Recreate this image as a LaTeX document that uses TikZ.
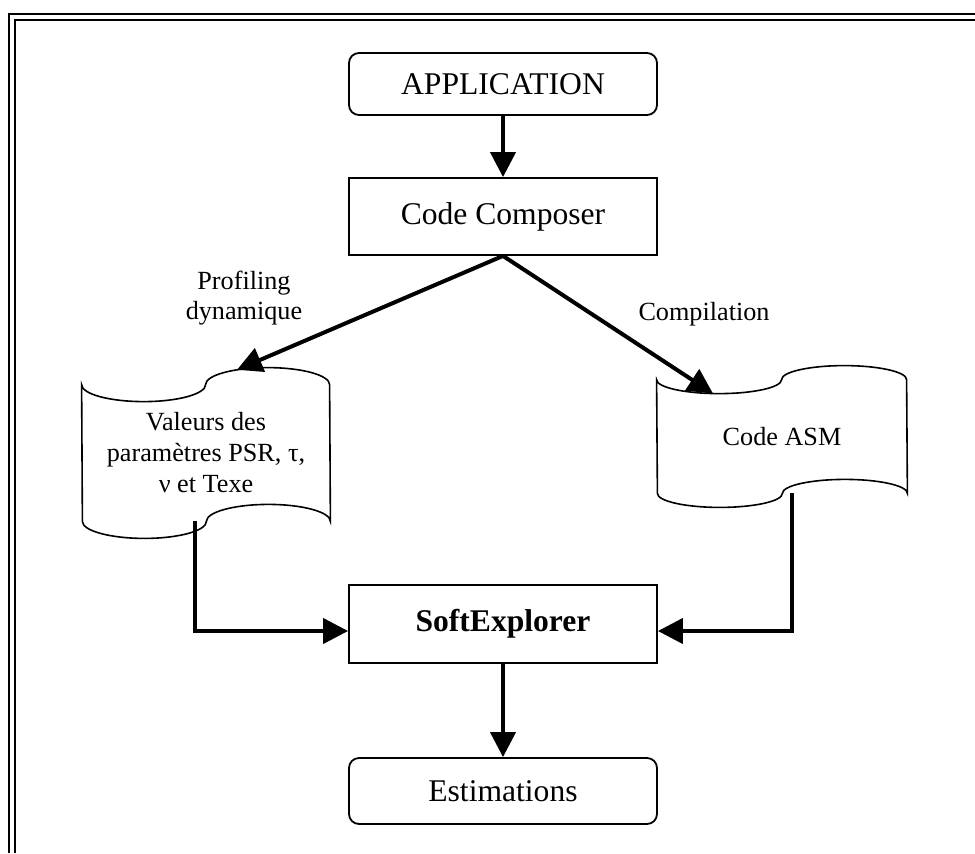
\documentclass[tikz,border=0pt]{standalone}
\usepackage{fontspec}
\setmainfont{Liberation Serif}
\usepackage{tikz}
\usetikzlibrary{arrows.meta,positioning}
\tikzset{
  fc/.style={x=0.5pt, y=-0.5pt, >={Triangle[length=12.5pt, width=12.5pt]},
             every node/.style={font=\fontsize{15.8}{19}\selectfont, inner sep=0pt}},
  blk/.style={draw, line width=0.9pt, minimum width=154pt, minimum height=39pt},
  rblk/.style={blk, rounded corners=5pt},
  ptape/.style={align=center, font=\fontsize{13.1}{15.5}\selectfont},
  tapeline/.style={line width=0.8pt},
  flow/.style={->, line width=2pt},
  lbl/.style={align=center, font=\fontsize{13.1}{15}\selectfont},
  frm/.style={line width=1.25pt}
}
% punched tape outline round a node: #1 node, #2 quarter width, #3 wave height
\newcommand{\tapeshape}[3]{%
  \draw[tapeline] (#1.north west)
    arc[start angle=180, end angle=360, x radius=#2, y radius=#3]
    arc[start angle=180, end angle=0, x radius=#2, y radius=#3]
    -- (#1.south east)
    arc[start angle=0, end angle=180, x radius=#2, y radius=#3]
    arc[start angle=0, end angle=-180, x radius=#2, y radius=#3] -- cycle;}

\begin{document}
\begin{tikzpicture}[fc]
\useasboundingbox (0,0) rectangle (975,853);
\draw[frm] (9,853) -- (9,14) -- (975,14);
\draw[frm] (15,853) -- (15,20) -- (975,20);

\node[rblk, minimum height=31pt] (app) at (503,84) {APPLICATION};
\node[blk, minimum height=38.5pt] (cc) at (503,216.5) {Code Composer};
\node[ptape, minimum width=124pt, minimum height=68pt] (vals) at (206,453)
  {Valeurs des\\paramètres PSR, τ,\\ν et Texe};
\node[ptape, minimum width=125pt, minimum height=56.5pt] (asm) at (782,436.5) {Code ASM};
\tapeshape{vals}{31pt}{8.5pt}
\tapeshape{asm}{31.25pt}{7pt}
\node[blk, font=\fontsize{15.8}{19}\selectfont\bfseries] (soft) at (503,624) {SoftExplorer};
\node[rblk, minimum height=33pt] (est) at (503,791) {Estimations};

\node[lbl] (prof) at (244,298) {Profiling\\dynamique};
\node[lbl] (comp) at (704,314) {Compilation};
\coordinate (valstop) at ([xshift=15.5pt, yshift=7.4pt]vals.north);
\coordinate (asmtop) at ([xshift=-34.5pt, yshift=-6.95pt]asm.north);

\draw[flow] (app) -- (cc);
\draw[flow] (cc.south) -- (valstop);
\draw[flow] (cc.south) -- (asmtop);
\draw[flow] ([xshift=-5.5pt]vals.south) |- ([yshift=-3.5pt]soft.west);
\draw[flow] ([xshift=5pt]asm.south) |- ([yshift=-3.5pt]soft.east);
\draw[flow] (soft) -- (est);
\end{tikzpicture}
\end{document}
